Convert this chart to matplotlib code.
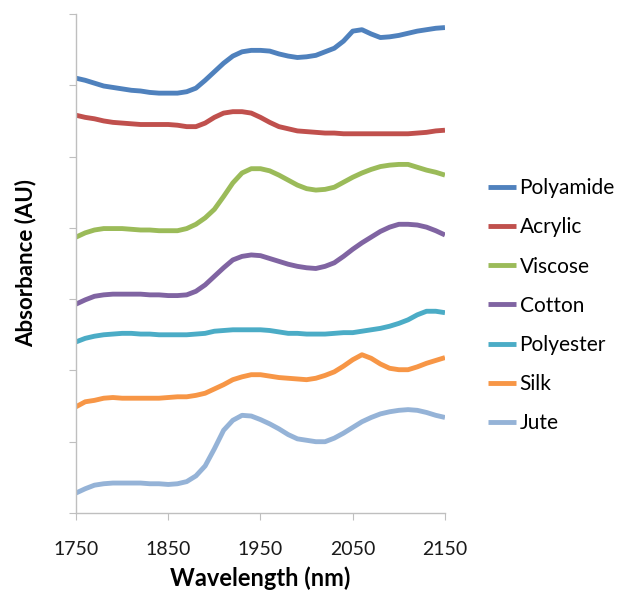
import matplotlib
matplotlib.use("Agg")
import matplotlib.pyplot as plt

# wavelength grid (nm)
wavelength = list(range(1750, 2151, 10))

polyamide = [6.10, 6.07, 6.03, 5.99, 5.97, 5.95, 5.93, 5.92, 5.90, 5.89,
             5.89, 5.89, 5.91, 5.96, 6.07, 6.19, 6.31, 6.41, 6.47, 6.49,
             6.49, 6.48, 6.44, 6.41, 6.39, 6.40, 6.42, 6.47, 6.52, 6.62,
             6.76, 6.78, 6.72, 6.67, 6.68, 6.70, 6.73, 6.76, 6.78, 6.80, 6.81]
acrylic = [5.58, 5.55, 5.53, 5.50, 5.48, 5.47, 5.46, 5.45, 5.45, 5.45,
           5.45, 5.44, 5.42, 5.42, 5.47, 5.55, 5.61, 5.63, 5.63, 5.61,
           5.55, 5.48, 5.42, 5.39, 5.36, 5.35, 5.34, 5.33, 5.33, 5.32,
           5.32, 5.32, 5.32, 5.32, 5.32, 5.32, 5.32, 5.33, 5.34, 5.36, 5.37]
viscose = [3.87, 3.93, 3.97, 3.99, 3.99, 3.99, 3.98, 3.97, 3.97, 3.96,
           3.96, 3.96, 3.99, 4.05, 4.14, 4.26, 4.44, 4.63, 4.77, 4.83,
           4.83, 4.80, 4.74, 4.67, 4.60, 4.55, 4.53, 4.54, 4.57, 4.64,
           4.71, 4.77, 4.82, 4.86, 4.88, 4.89, 4.89, 4.85, 4.81, 4.78, 4.74]
cotton = [2.93, 2.99, 3.04, 3.06, 3.07, 3.07, 3.07, 3.07, 3.06, 3.06,
          3.05, 3.05, 3.06, 3.11, 3.20, 3.32, 3.44, 3.55, 3.60, 3.62,
          3.61, 3.57, 3.53, 3.49, 3.46, 3.44, 3.43, 3.46, 3.51, 3.60,
          3.70, 3.79, 3.87, 3.95, 4.01, 4.05, 4.05, 4.04, 4.01, 3.96, 3.90]
polyester = [2.40, 2.45, 2.48, 2.50, 2.51, 2.52, 2.52, 2.51, 2.51, 2.50,
             2.50, 2.50, 2.50, 2.51, 2.52, 2.55, 2.56, 2.57, 2.57, 2.57,
             2.57, 2.56, 2.54, 2.52, 2.52, 2.51, 2.51, 2.51, 2.52, 2.53,
             2.53, 2.55, 2.57, 2.59, 2.62, 2.66, 2.71, 2.78, 2.83, 2.83, 2.81]
silk = [1.49, 1.56, 1.58, 1.61, 1.62, 1.61, 1.61, 1.61, 1.61, 1.61,
        1.62, 1.63, 1.63, 1.65, 1.68, 1.74, 1.80, 1.87, 1.91, 1.94,
        1.94, 1.92, 1.90, 1.89, 1.88, 1.87, 1.89, 1.93, 1.98, 2.06,
        2.15, 2.22, 2.17, 2.09, 2.03, 2.01, 2.01, 2.05, 2.10, 2.14, 2.18]
jute = [0.28, 0.34, 0.39, 0.41, 0.42, 0.42, 0.42, 0.42, 0.41, 0.41,
        0.40, 0.41, 0.44, 0.52, 0.66, 0.90, 1.16, 1.30, 1.37, 1.36,
        1.31, 1.25, 1.18, 1.10, 1.04, 1.02, 1.00, 1.00, 1.05, 1.12,
        1.20, 1.28, 1.34, 1.39, 1.42, 1.44, 1.45, 1.44, 1.41, 1.37, 1.34]

names = ["Polyamide", "Acrylic", "Viscose", "Cotton", "Polyester", "Silk", "Jute"]
series = [polyamide, acrylic, viscose, cotton, polyester, silk, jute]
colors = ["#4F81BD", "#C0504D", "#9BBB59", "#8064A2", "#4BACC6", "#F79646", "#95B3D7"]

x_ticks = [1750, 1850, 1950, 2050, 2150]

plt.rcParams["font.family"] = ["Lato", "DejaVu Sans"]

fig = plt.figure(figsize=(6.22, 5.94), dpi=100)
ax = fig.add_axes([0.1222, 0.1364, 0.5932, 0.84])

for name, ys, c in zip(names, series, colors):
    ax.plot(wavelength, ys, color=c, lw=3.5, label=name,
            solid_capstyle="butt", solid_joinstyle="round")

ax.set_xlim(1750, 2150)
ax.set_ylim(0, 7)
ax.set_xticks(x_ticks)
ax.set_yticks(range(0, 8))
ax.set_yticklabels([])

for side in ["top", "right"]:
    ax.spines[side].set_visible(False)
for side in ["left", "bottom"]:
    ax.spines[side].set_color("#BFBFBF")
    ax.spines[side].set_linewidth(1.0)
ax.tick_params(axis="both", direction="out", length=5, color="#BFBFBF",
               labelsize=14, labelcolor="#1a1a1a")
ax.tick_params(axis="x", pad=15)

ax.set_xlabel("Wavelength (nm)", fontsize=17, fontweight="bold", labelpad=6)
ax.set_ylabel("Absorbance (AU)", fontsize=16, fontweight="bold", labelpad=20)

fig.legend(loc="upper left", bbox_to_anchor=(0.785, 0.7), frameon=False,
           fontsize=15, handlelength=1.35, handletextpad=0.15,
           labelspacing=0.92, borderpad=0, borderaxespad=0)

fig.savefig("out.png", dpi=100)
